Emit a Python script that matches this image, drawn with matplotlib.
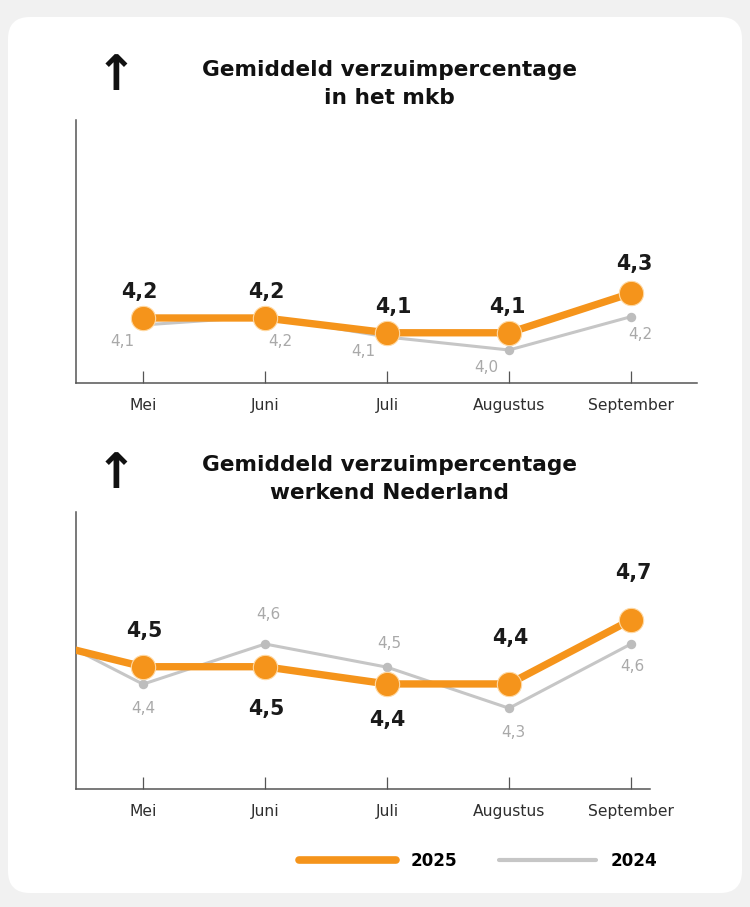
import matplotlib
matplotlib.use("Agg")
import matplotlib.pyplot as plt
import numpy as np
from matplotlib.patches import FancyBboxPatch
from matplotlib.lines import Line2D

plt.rcParams['font.family'] = ['DejaVu Sans']

# ---------------- data ----------------
months = ['Mei', 'Juni', 'Juli', 'Augustus', 'September']

# Panel 1: mkb (plotted positions, labels as printed)
mkb_2025 = [4.197, 4.197, 4.106, 4.106, 4.349]
mkb_2025_labels = ['4,2', '4,2', '4,1', '4,1', '4,3']
mkb_2024 = [4.154, 4.206, 4.080, 4.000, 4.205]
mkb_2024_labels = ['4,1', '4,2', '4,1', '4,0', '4,2']

# Panel 2: werkend Nederland (first value = April, only partly visible)
nl_months = ['April'] + months
nl_2025 = [4.624, 4.488, 4.488, 4.410, 4.410, 4.700]
nl_2025_labels = ['', '4,5', '4,5', '4,4', '4,4', '4,7']
nl_2024 = [4.692, 4.409, 4.591, 4.486, 4.300, 4.591]
nl_2024_labels = ['', '4,4', '4,6', '4,5', '4,3', '4,6']

titles = ['Gemiddeld verzuimpercentage\nin het mkb',
          'Gemiddeld verzuimpercentage\nwerkend Nederland']
series_names = ['2025', '2024']

# ---------------- style ----------------
W, H = 750, 907
ORANGE = '#F5941B'
GRAY_LINE = '#c6c6c6'
GRAY_DOT = '#bdbdbd'
GRAY_TXT = '#a9a9a9'
AXIS = '#555555'

fig = plt.figure(figsize=(W / 100, H / 100), dpi=100)
fig.patch.set_facecolor('#f1f1f1')

# background card
bg = fig.add_axes([0, 0, 1, 1])
bg.set_xlim(0, W)
bg.set_ylim(H, 0)
bg.axis('off')
bg.add_patch(FancyBboxPatch((8, 17), 734, 876, boxstyle='round,pad=0,rounding_size=22',
                            facecolor='white', edgecolor='none'))


def px_axes(left, top, right, bottom):
    return fig.add_axes([left / W, 1 - bottom / H, (right - left) / W, (bottom - top) / H])


def style_axes(ax):
    for s in ['top', 'right']:
        ax.spines[s].set_visible(False)
    for s in ['left', 'bottom']:
        ax.spines[s].set_color(AXIS)
        ax.spines[s].set_linewidth(1.1)
    ax.set_yticks([])
    ax.tick_params(axis='x', direction='in', length=8.5, width=0.9, color=AXIS,
                   pad=11, labelsize=11.2, labelcolor='#2e2e2e')
    ax.patch.set_alpha(0)


def draw(ax, x, v25, l25, off25, v24, l24, off24):
    ax.plot(x, v24, color=GRAY_LINE, lw=2.2, marker='o', ms=5.8, mfc=GRAY_DOT, mec=GRAY_DOT,
            solid_capstyle='round', zorder=2)
    ax.plot(x, v25, color=ORANGE, lw=5.3, marker='o', ms=17.5, mfc=ORANGE, mec='#ffd9a3',
            mew=0.8, solid_joinstyle='round', zorder=3)
    for xi, v, lab, (dx, dy) in zip(x, v24, l24, off24):
        if lab:
            ax.annotate(lab, (xi, v), xytext=(dx, dy), textcoords='offset pixels',
                        ha='center', va='center', fontsize=11, color=GRAY_TXT, zorder=4,
                        annotation_clip=False)
    for xi, v, lab, (dx, dy) in zip(x, v25, l25, off25):
        if lab:
            ax.annotate(lab, (xi, v), xytext=(dx, dy), textcoords='offset pixels',
                        ha='center', va='center', fontsize=14.8, fontweight='bold',
                        color='#1a1a1a', zorder=5, annotation_clip=False)


# ---- panel 1
ax1 = px_axes(75.7, 120, 697, 383)
style_axes(ax1)
x1 = np.arange(len(months))
ax1.set_xticks(x1, months)
draw(ax1, x1, mkb_2025, mkb_2025_labels,
     [(-4, 26), (1, 26), (6, 26), (-2, 26), (3, 29)],
     mkb_2024, mkb_2024_labels,
     [(-21, -17), (15, -25), (-24, -15), (-23, -17), (9, -18)])
ax1.set_xlim(-0.552, 4.541)
ax1.set_ylim(3.797, 5.415)

# ---- panel 2
ax2 = px_axes(75.7, 512, 650, 789)
style_axes(ax2)
x2 = np.arange(len(nl_months)) - 1
ax2.set_xticks(x2, nl_months)
draw(ax2, x2, nl_2025, nl_2025_labels,
     [(0, 0), (1, 36), (1, -42), (0, -36), (1, 46), (2, 47)],
     nl_2024, nl_2024_labels,
     [(0, 0), (0, -24), (3, 29), (2, 24), (4, -24), (1, -23)])
ax2.set_xlim(-0.552, 4.156)
ax2.set_ylim(3.934, 5.189)

# titles and arrows
for ty, ay, t in [(83.5, 76, titles[0]), (479, 474, titles[1])]:
    fig.text(389 / W, 1 - ty / H, t, ha='center', va='center', fontsize=15.6,
             fontweight='bold', color='#111111', linespacing=1.5)
    fig.text(116 / W, 1 - ay / H, '\u2191', ha='center', va='center', fontsize=35,
             fontweight='bold', color='#111111')

# legend
handles = [Line2D([], [], color=ORANGE, lw=5.5, solid_capstyle='round'),
           Line2D([], [], color=GRAY_LINE, lw=3, solid_capstyle='round')]
fig.legend(handles, series_names, loc='center', bbox_to_anchor=(478 / W, 1 - 861 / H),
           ncol=2, frameon=False, handlelength=5.8, handletextpad=0.85, columnspacing=2.5,
           prop={'weight': 'bold', 'size': 12.1})

fig.savefig('out.png', dpi=100, facecolor=fig.get_facecolor())
